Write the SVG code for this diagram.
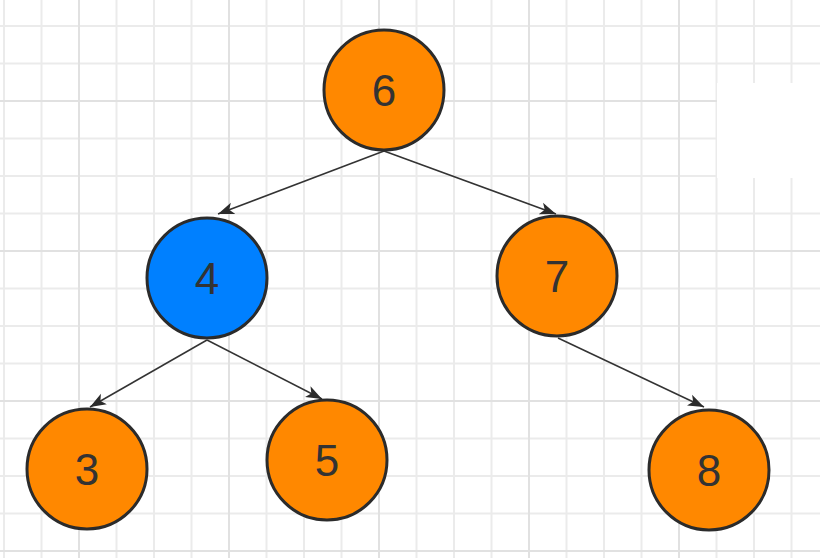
<svg xmlns="http://www.w3.org/2000/svg" width="820" height="558" viewBox="0 0 820 558">
<defs>
<marker id="arr" viewBox="0 0 16 13" refX="16" refY="6.5" markerWidth="16" markerHeight="13" markerUnits="userSpaceOnUse" orient="auto">
<path d="M0 0.5 L16 6.5 L0 12.5 L4 6.5 Z" fill="#2b2b2b"/>
</marker>
<style>
.g line{stroke:#ebebeb;stroke-width:2}
.G line{stroke:#e1e1e1;stroke-width:2}
.n{stroke:#2b2b2b;stroke-width:3}
.o{fill:#ff8800}
.b{fill:#0080ff}
.t{font-family:"Liberation Sans","Noto Sans",Arial,sans-serif;font-size:44px;fill:#333;text-anchor:middle}
.e{stroke:#333;stroke-width:1.5;fill:none;marker-end:url(#arr)}
</style>
</defs>
<rect width="820" height="558" fill="#fff"/>
<g class="g">
<line x1="4" y1="0" x2="4" y2="558"/><line x1="41.5" y1="0" x2="41.5" y2="558"/><line x1="116.5" y1="0" x2="116.5" y2="558"/><line x1="154" y1="0" x2="154" y2="558"/><line x1="191.5" y1="0" x2="191.5" y2="558"/><line x1="266.5" y1="0" x2="266.5" y2="558"/><line x1="304" y1="0" x2="304" y2="558"/><line x1="341.5" y1="0" x2="341.5" y2="558"/><line x1="416.5" y1="0" x2="416.5" y2="558"/><line x1="454" y1="0" x2="454" y2="558"/><line x1="491.5" y1="0" x2="491.5" y2="558"/><line x1="566.5" y1="0" x2="566.5" y2="558"/><line x1="604" y1="0" x2="604" y2="558"/><line x1="641.5" y1="0" x2="641.5" y2="558"/><line x1="716.5" y1="0" x2="716.5" y2="558"/><line x1="754" y1="0" x2="754" y2="558"/><line x1="791.5" y1="0" x2="791.5" y2="558"/>
<line x1="0" y1="26" x2="820" y2="26"/><line x1="0" y1="63.5" x2="820" y2="63.5"/><line x1="0" y1="138.5" x2="820" y2="138.5"/><line x1="0" y1="176" x2="820" y2="176"/><line x1="0" y1="213.5" x2="820" y2="213.5"/><line x1="0" y1="288.5" x2="820" y2="288.5"/><line x1="0" y1="326" x2="820" y2="326"/><line x1="0" y1="363.5" x2="820" y2="363.5"/><line x1="0" y1="438.5" x2="820" y2="438.5"/><line x1="0" y1="476" x2="820" y2="476"/><line x1="0" y1="513.5" x2="820" y2="513.5"/>
</g>
<g class="G">
<line x1="79" y1="0" x2="79" y2="558"/><line x1="229" y1="0" x2="229" y2="558"/><line x1="379" y1="0" x2="379" y2="558"/><line x1="529" y1="0" x2="529" y2="558"/><line x1="679" y1="0" x2="679" y2="558"/>
<line x1="0" y1="101" x2="820" y2="101"/><line x1="0" y1="251" x2="820" y2="251"/><line x1="0" y1="401" x2="820" y2="401"/><line x1="0" y1="551" x2="820" y2="551"/>
</g>
<rect x="717" y="83" width="103" height="95" fill="#fff"/>
<g id="connectors">
<line class="e" x1="384" y1="151" x2="218" y2="214"/>
<line class="e" x1="384" y1="151" x2="556" y2="214"/>
<line class="e" x1="207" y1="340" x2="90" y2="407"/>
<line class="e" x1="207" y1="340" x2="322" y2="399"/>
<line class="e" x1="558" y1="338" x2="704" y2="407"/>
</g>
<g id="node6"><circle class="n o" cx="384" cy="90" r="60"/><text class="t" x="384" y="106">6</text></g>
<g id="node4"><circle class="n b" cx="207" cy="278" r="60"/><text class="t" x="207" y="294">4</text></g>
<g id="node7"><circle class="n o" cx="557" cy="276" r="60"/><text class="t" x="557" y="292">7</text></g>
<g id="node3"><circle class="n o" cx="87" cy="469" r="60"/><text class="t" x="87" y="485">3</text></g>
<g id="node5"><circle class="n o" cx="327" cy="460" r="60"/><text class="t" x="327" y="476">5</text></g>
<g id="node8"><circle class="n o" cx="709" cy="470" r="60"/><text class="t" x="709" y="486">8</text></g>
</svg>
